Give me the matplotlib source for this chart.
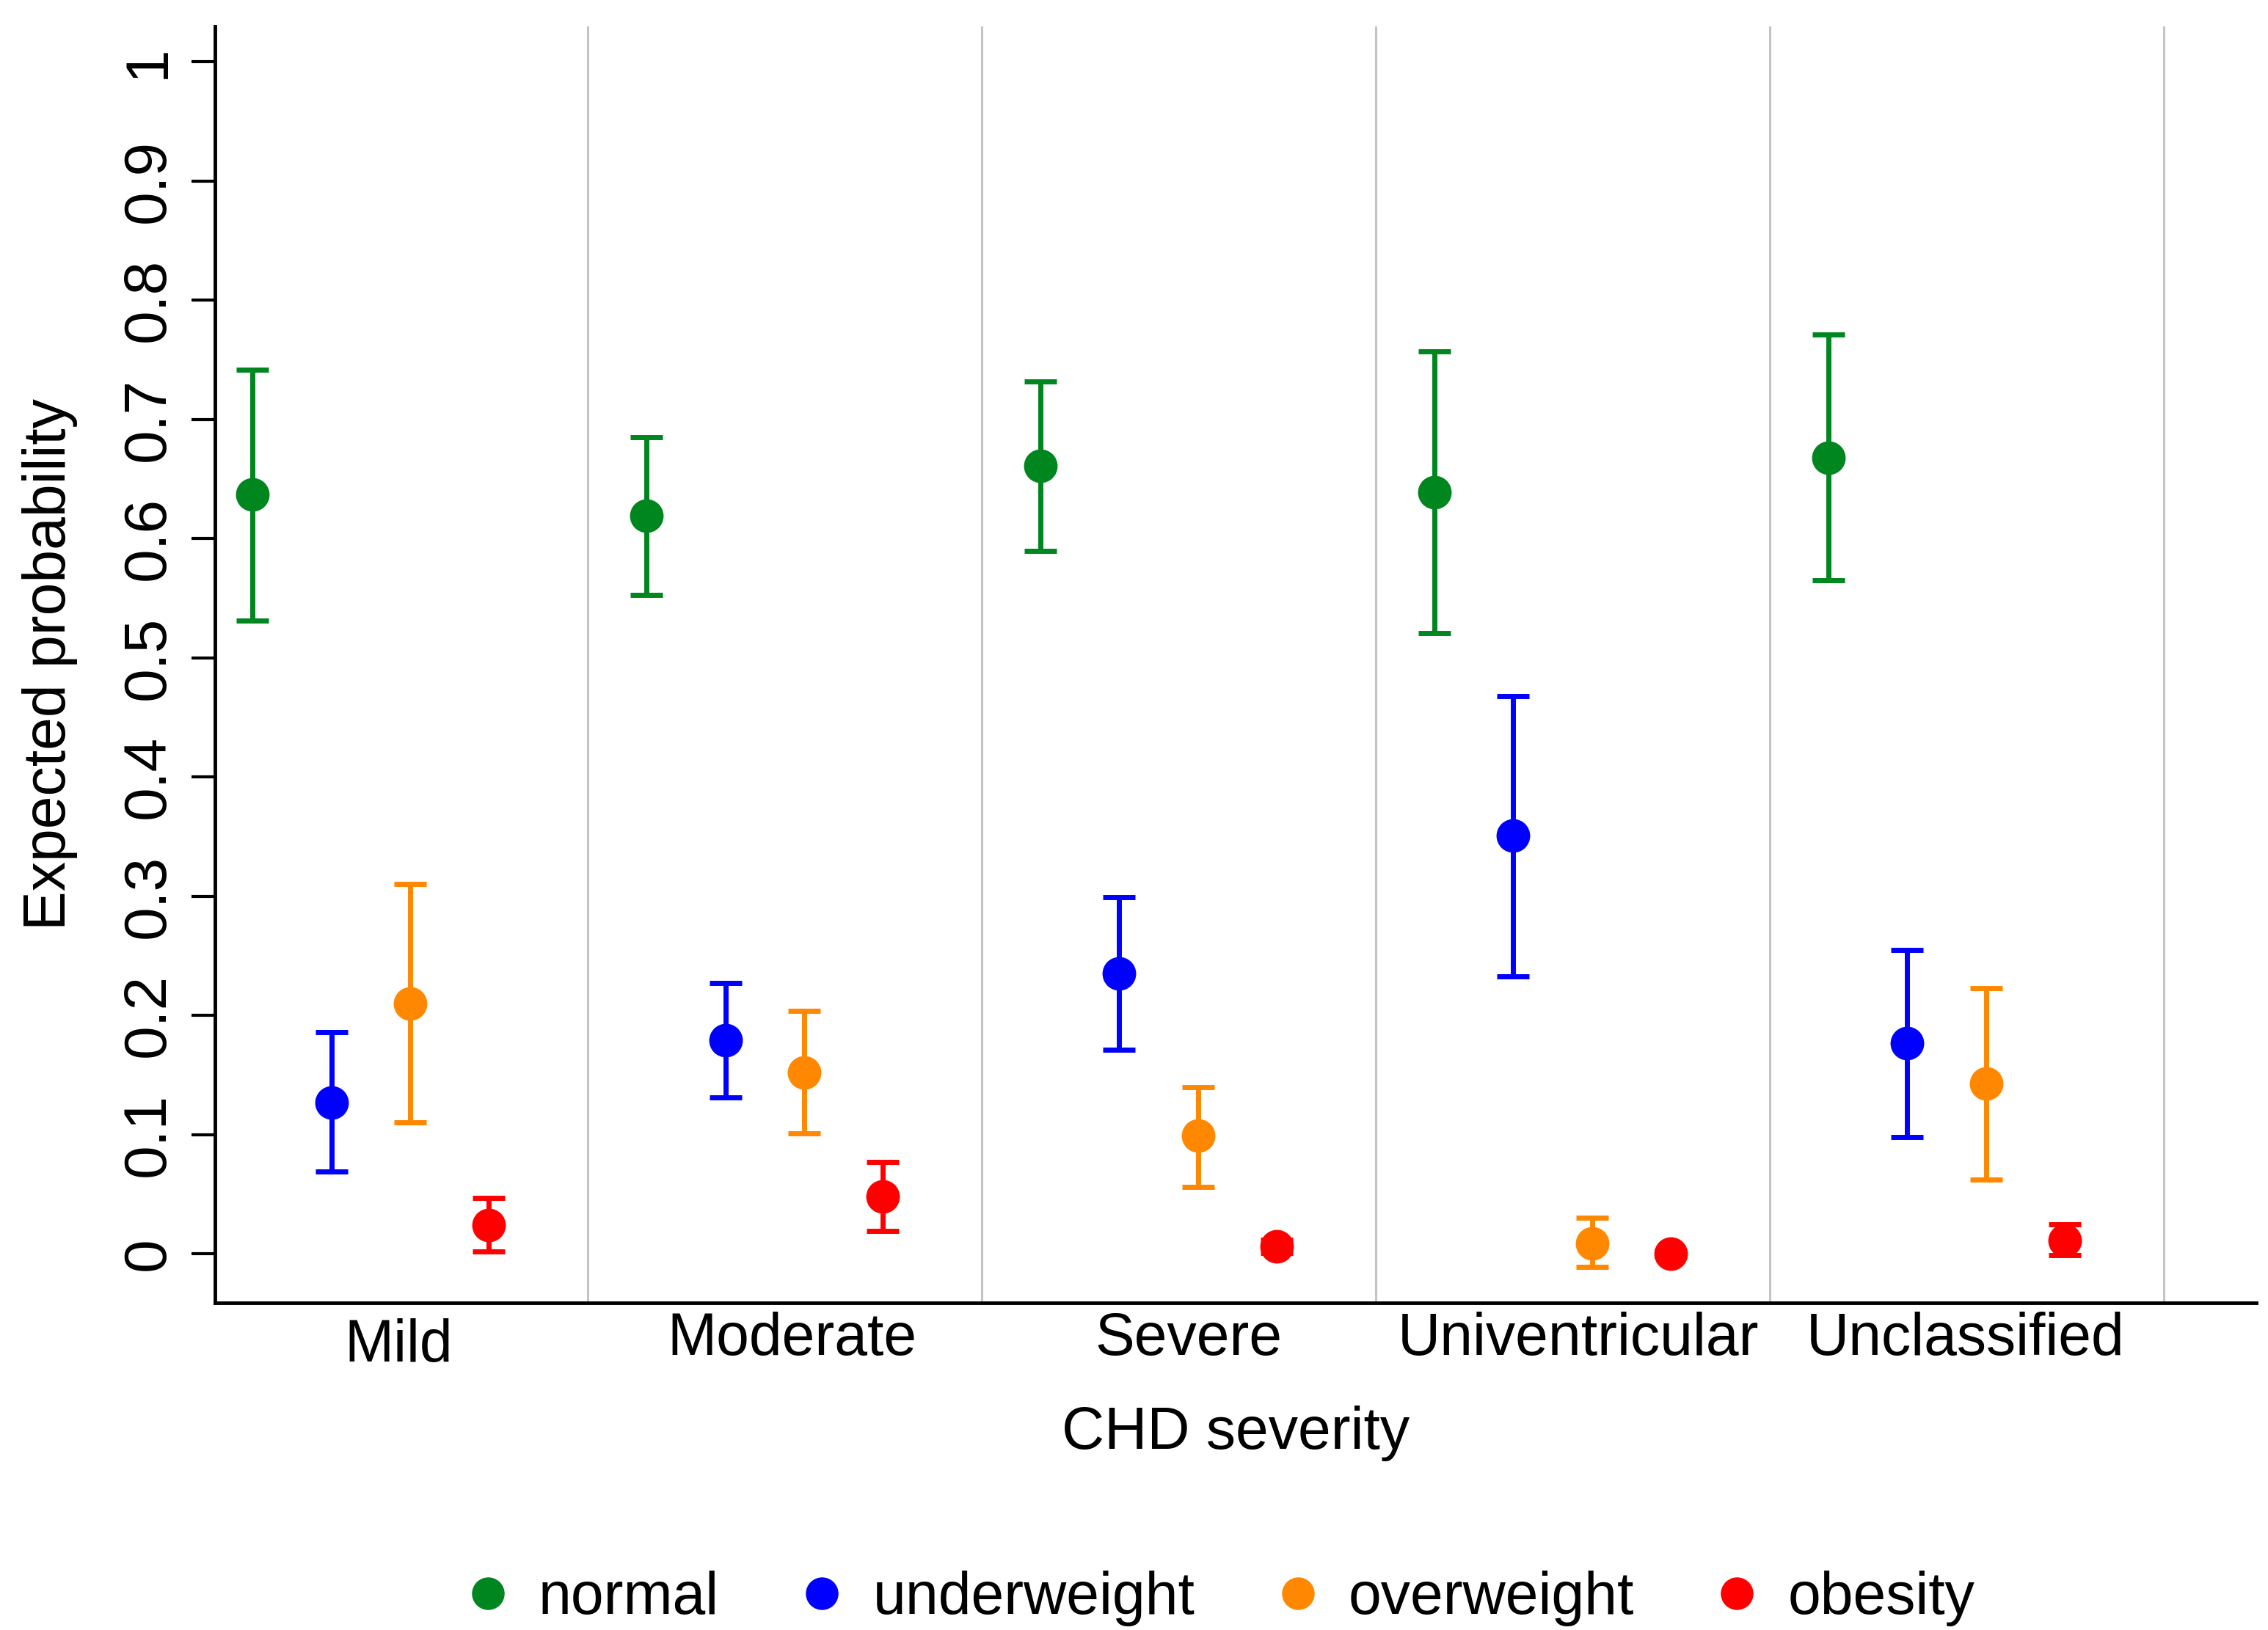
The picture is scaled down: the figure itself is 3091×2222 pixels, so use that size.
import matplotlib
matplotlib.use("Agg")
import matplotlib.pyplot as plt
import matplotlib.transforms as mtransforms
from matplotlib.lines import Line2D
import numpy as np

plt.rcParams['font.family'] = ['Liberation Sans', 'DejaVu Sans']

# ---- data ----
categories = ['Mild', 'Moderate', 'Severe', 'Univentricular', 'Unclassified']
series = ['normal', 'underweight', 'overweight', 'obesity']

normal_est = [0.637, 0.619, 0.661, 0.639, 0.668]
normal_lo = [0.531, 0.553, 0.590, 0.521, 0.565]
normal_hi = [0.742, 0.685, 0.732, 0.757, 0.771]

under_est = [0.127, 0.179, 0.235, 0.351, 0.177]
under_lo = [0.069, 0.131, 0.171, 0.233, 0.098]
under_hi = [0.186, 0.227, 0.299, 0.468, 0.255]

over_est = [0.210, 0.152, 0.099, 0.009, 0.143]
over_lo = [0.110, 0.101, 0.056, -0.011, 0.062]
over_hi = [0.310, 0.204, 0.140, 0.030, 0.223]

obes_est = [0.024, 0.048, 0.0065, 0.0, 0.0115]
obes_lo = [0.002, 0.019, 0.001, -0.002, -0.001]
obes_hi = [0.047, 0.077, 0.012, 0.002, 0.025]

yticks = [0, 0.1, 0.2, 0.3, 0.4, 0.5, 0.6, 0.7, 0.8, 0.9, 1]
ytick_labels = ['0', '0.1', '0.2', '0.3', '0.4', '0.5', '0.6', '0.7', '0.8', '0.9', '1']

colors = ['#00861e', '#0000ff', '#ff8800', '#ff0000']

# ---- layout ----
offsets = [0.15, 0.35, 0.55, 0.75]
label_pos = [0.52, 1.52, 2.526, 3.515, 4.498]

fig = plt.figure(figsize=(30.91, 22.22), dpi=100)
ax = fig.add_axes([0.0949, 0.2005, 0.9, 0.7835])

est_all = [normal_est, under_est, over_est, obes_est]
lo_all = [normal_lo, under_lo, over_lo, obes_lo]
hi_all = [normal_hi, under_hi, over_hi, obes_hi]

for b in range(1, 6):
    ax.axvline(b, color='#c4c4c4', lw=2.2, zorder=0)

handles = []
for k, name in enumerate(series):
    x = np.arange(len(categories)) + offsets[k]
    est = np.array(est_all[k])
    lo = np.array(lo_all[k])
    hi = np.array(hi_all[k])
    ax.errorbar(x, est, yerr=[est - lo, hi - est], fmt='none',
                ecolor=colors[k], elinewidth=5.0, capsize=16, capthick=5.0, zorder=2)
    ax.plot(x, est, 'o', color=colors[k], markersize=32, zorder=3)
    handles.append(Line2D([], [], marker='o', ls='none', color=colors[k],
                          markersize=31, label=name))

ax.set_xlim(0.0554, 5.236)
ax.set_ylim(-0.0414, 1.03)

ax.set_yticks(yticks)
ax.set_yticklabels(ytick_labels, rotation=90, va='center')
ax.tick_params(axis='y', length=23, width=3, labelsize=59, pad=15)
ax.set_xticks(label_pos)
ax.set_xticklabels(categories)
ax.tick_params(axis='x', length=0, labelsize=58, pad=8)

for lab in ax.get_xticklabels():
    if lab.get_text() == 'Mild':
        lab.set_transform(lab.get_transform() +
                          mtransforms.ScaledTranslation(0, -7 / 72, fig.dpi_scale_trans))

for s in ['top', 'right']:
    ax.spines[s].set_visible(False)
for s in ['left', 'bottom']:
    ax.spines[s].set_linewidth(3.5)

ax.set_ylabel('Expected probability', fontsize=58, labelpad=42)
ax.set_xlabel('CHD severity', fontsize=58, labelpad=31)

fig.legend(handles=handles, loc='center', bbox_to_anchor=(0.539, 0.0193),
           ncol=4, frameon=False, fontsize=58, handlelength=0.6,
           handletextpad=0.56, columnspacing=1.44, borderpad=0)

fig.savefig('out.png', dpi=100)
